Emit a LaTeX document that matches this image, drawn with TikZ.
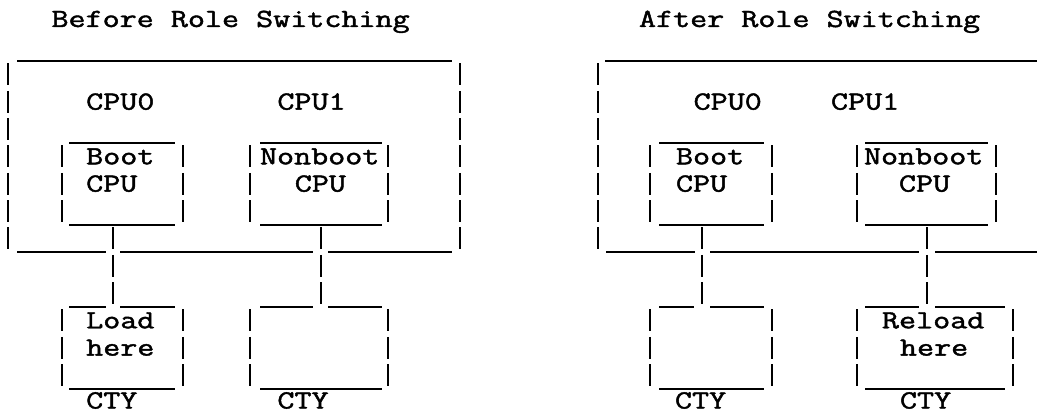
\documentclass[tikz,border=0pt]{standalone}
\usepackage{fontspec}
\newfontfamily\reffont{Latin Modern Mono}[FakeBold=1.5]
\tikzset{
  hline/.style={line width=2.2pt, line cap=butt},
  vbar/.style={line width=2.4pt, line cap=butt, dash pattern=on 21.83pt off 5.5pt},
  lbl/.style={inner sep=0pt, outer sep=0pt, anchor=base west,
    font=\reffont\fontsize{26.2}{26.2}\selectfont},
}
% horizontal underscore run on text row #1 from x=#2 to x=#3
\newcommand\HSeg[3]{\draw[hline] (#2,{61+27.33*#1}) -- (#3,{61+27.33*#1});}
% vertical bar column at x=#1 over text rows #2..#3
\newcommand\VSeg[3]{\draw[vbar] (#1,{61+27.33*(#2-1)+2.5}) -- (#1,{61+27.33*#3-3});}
% text node
\newcommand\TxtAt[4]{\node[lbl] (#1) at (#2,{#3}) {\scalebox{1.264}[1]{#4}};}
\newcommand\RowB[1]{55+27.33*#1}
\begin{document}
\begin{tikzpicture}[x=1pt,y=-1pt]
\fill[white] (0,0) rectangle (1037,414);
\useasboundingbox (0,0) rectangle (1037,414);

%================ LEFT: before role switching
\TxtAt{tBefore}{51.5}{27}{Before Role Switching}
\HSeg{0}{17}{452}
\VSeg{8}{1}{7}
\VSeg{460}{1}{7}
\TxtAt{lCPU0}{86.2}{\RowB{2}}{CPU0}
\TxtAt{lCPU1}{277.4}{\RowB{2}}{CPU1}
% boot CPU box
\HSeg{3}{69}{175}\HSeg{6}{69}{175}
\VSeg{62}{4}{6}\VSeg{183}{4}{6}
\TxtAt{lBoot}{86.2}{\RowB{4}}{Boot}
\TxtAt{lBootCPU}{86.2}{\RowB{5}}{CPU}
% nonboot CPU box
\HSeg{3}{260}{382}\HSeg{6}{260}{382}
\VSeg{250}{4}{6}\VSeg{388}{4}{6}
\TxtAt{lNonboot}{260}{\RowB{4}}{Nonboot}
\TxtAt{lNonbootCPU}{294.8}{\RowB{5}}{CPU}
% bus
\HSeg{7}{17}{106}\HSeg{7}{120}{313}\HSeg{7}{328}{452}
% connectors
\coordinate (lA1) at (113,{61+27.33*6+2.5});
\coordinate (lA2) at (113,{61+27.33*9-3});
\coordinate (lB1) at (321,{61+27.33*6+2.5});
\coordinate (lB2) at (321,{61+27.33*9-3});
\draw[vbar] (lA1) -- (lA2);
\draw[vbar] (lB1) -- (lB2);
% CTY boxes
\HSeg{9}{69}{106}\HSeg{9}{120}{175}\HSeg{12}{69}{175}
\VSeg{62}{10}{12}\VSeg{183}{10}{12}
\TxtAt{lLoad}{86.2}{\RowB{10}}{Load}
\TxtAt{lHere}{86.2}{\RowB{11}}{here}
\TxtAt{lCTYa}{86.2}{408.5}{CTY}
\HSeg{9}{260}{313}\HSeg{9}{328}{382}\HSeg{12}{260}{382}
\VSeg{250}{10}{12}\VSeg{388}{10}{12}
\TxtAt{lCTYb}{277.4}{408.5}{CTY}

%================ RIGHT: after role switching
\TxtAt{tAfter}{639}{27}{After Role Switching}
\HSeg{0}{605}{1040}
\VSeg{598}{1}{7}
\TxtAt{rCPU0}{693.6}{\RowB{2}}{CPU0}
\TxtAt{rCPU1}{831}{\RowB{2}}{CPU1}
% boot CPU box
\HSeg{3}{659}{764}\HSeg{6}{659}{764}
\VSeg{650}{4}{6}\VSeg{772}{4}{6}
\TxtAt{rBoot}{676}{\RowB{4}}{Boot}
\TxtAt{rBootCPU}{676}{\RowB{5}}{CPU}
% nonboot CPU box
\HSeg{3}{865}{988}\HSeg{6}{865}{988}
\VSeg{857}{4}{6}\VSeg{996}{4}{6}
\TxtAt{rNonboot}{864}{\RowB{4}}{Nonboot}
\TxtAt{rNonbootCPU}{899}{\RowB{5}}{CPU}
% bus
\HSeg{7}{606}{695}\HSeg{7}{710}{919}\HSeg{7}{935}{1040}
% connectors
\coordinate (rA1) at (702,{61+27.33*6+2.5});
\coordinate (rA2) at (702,{61+27.33*9-3});
\coordinate (rB1) at (927,{61+27.33*6+2.5});
\coordinate (rB2) at (927,{61+27.33*9-3});
\draw[vbar] (rA1) -- (rA2);
\draw[vbar] (rB1) -- (rB2);
% CTY boxes
\HSeg{9}{659}{694}\HSeg{9}{710}{764}\HSeg{12}{659}{764}
\VSeg{650}{10}{12}\VSeg{772}{10}{12}
\TxtAt{rCTYa}{675}{408.5}{CTY}
\HSeg{9}{865}{919}\HSeg{9}{935}{1005}\HSeg{12}{865}{1005}
\VSeg{857}{10}{12}\VSeg{1013}{10}{12}
\TxtAt{rReload}{882}{\RowB{10}}{Reload}
\TxtAt{rHere}{900}{\RowB{11}}{here}
\TxtAt{rCTYb}{900}{408.5}{CTY}
\end{tikzpicture}
\end{document}
